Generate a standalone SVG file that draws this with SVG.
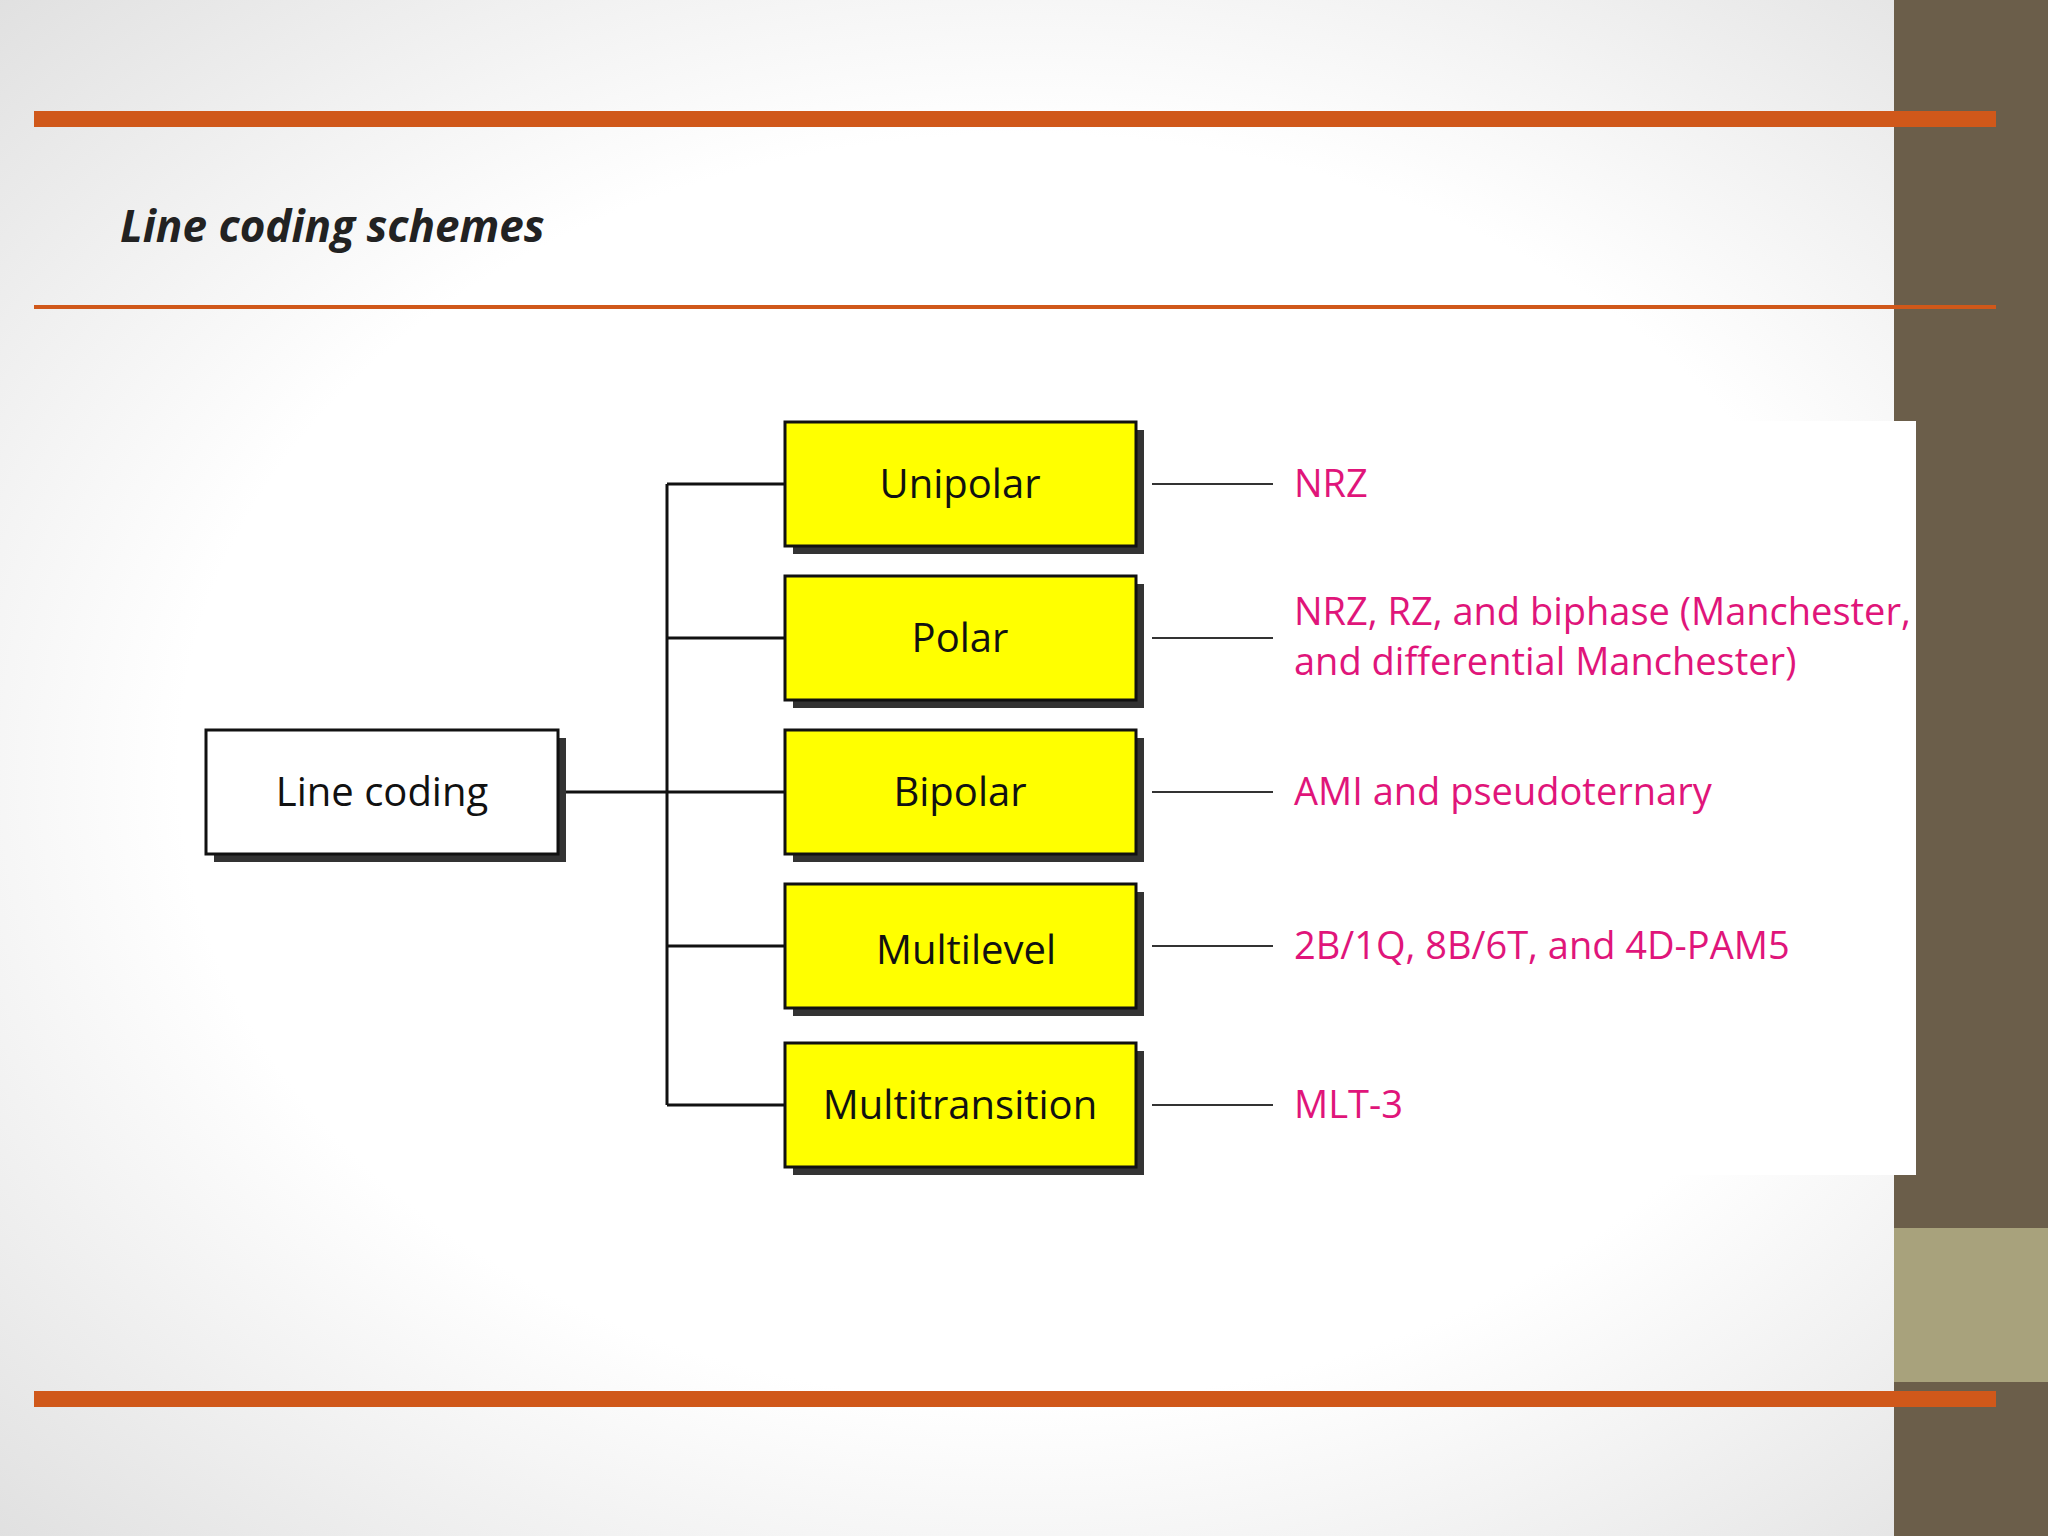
<svg xmlns="http://www.w3.org/2000/svg" width="2048" height="1536" viewBox="0 0 2048 1536">
<defs>
<radialGradient id="bg" cx="50%" cy="50%" r="75%"><stop offset="0.55" stop-color="#ffffff"/><stop offset="1" stop-color="#dcdcdc"/></radialGradient>
<style>
.box{stroke:#111;stroke-width:3}
.sh{fill:#333}
.bt{font-family:"Open Sans","Liberation Sans",sans-serif;font-size:40px;fill:#111;text-anchor:middle}
.lb{font-family:"Open Sans","Liberation Sans",sans-serif;font-size:38px;fill:#e0157a}
.ln{stroke:#111;stroke-width:3;fill:none}
.dl{stroke:#333;stroke-width:2}
</style>
</defs>
<rect width="2048" height="1536" fill="url(#bg)"/>
<rect x="1894" y="0" width="154" height="1536" fill="#6b5e4a"/>
<rect x="1894" y="1228" width="154" height="154" fill="#a8a27c"/>
<rect x="1100" y="421" width="816" height="754" fill="#ffffff"/>
<rect x="34" y="111" width="1962" height="16" fill="#d0581a"/>
<rect x="34" y="305" width="1962" height="4" fill="#d0581a"/>
<rect x="34" y="1391" width="1962" height="16" fill="#d0581a"/>
<text x="120" y="242" font-family="Open Sans, Liberation Sans, sans-serif" font-size="44" font-weight="bold" font-style="italic" fill="#222">Line coding schemes</text>
<g id="connectors">
<path class="ln" d="M558 792H785M667 484V1105M667 484H785M667 638H785M667 946H785M667 1105H785"/>
<path class="dl" d="M1152 484H1273M1152 638H1273M1152 792H1273M1152 946H1273M1152 1105H1273"/>
</g>
<g id="root"><rect class="sh" x="214" y="738" width="352" height="124"/><rect class="box" x="206" y="730" width="352" height="124" fill="#fff"/><text class="bt" x="382" y="806">Line coding</text></g>
<g id="unipolar"><rect class="sh" x="793" y="430" width="351" height="124"/><rect class="box" x="785" y="422" width="351" height="124" fill="#ffff00"/><text class="bt" x="960" y="498">Unipolar</text></g>
<g id="polar"><rect class="sh" x="793" y="584" width="351" height="124"/><rect class="box" x="785" y="576" width="351" height="124" fill="#ffff00"/><text class="bt" x="960" y="652">Polar</text></g>
<g id="bipolar"><rect class="sh" x="793" y="738" width="351" height="124"/><rect class="box" x="785" y="730" width="351" height="124" fill="#ffff00"/><text class="bt" x="960" y="806">Bipolar</text></g>
<g id="multilevel"><rect class="sh" x="793" y="892" width="351" height="124"/><rect class="box" x="785" y="884" width="351" height="124" fill="#ffff00"/><text class="bt" x="966" y="964">Multilevel</text></g>
<g id="multitransition"><rect class="sh" x="793" y="1051" width="351" height="124"/><rect class="box" x="785" y="1043" width="351" height="124" fill="#ffff00"/><text class="bt" x="960" y="1119">Multitransition</text></g>
<g id="labels">
<text class="lb" x="1294" y="497">NRZ</text>
<text class="lb" x="1294" y="625">NRZ, RZ, and biphase (Manchester,</text>
<text class="lb" x="1294" y="675">and differential Manchester)</text>
<text class="lb" x="1294" y="805">AMI and pseudoternary</text>
<text class="lb" x="1294" y="959">2B/1Q,  8B/6T, and 4D-PAM5</text>
<text class="lb" x="1294" y="1118">MLT-3</text>
</g>
</svg>
